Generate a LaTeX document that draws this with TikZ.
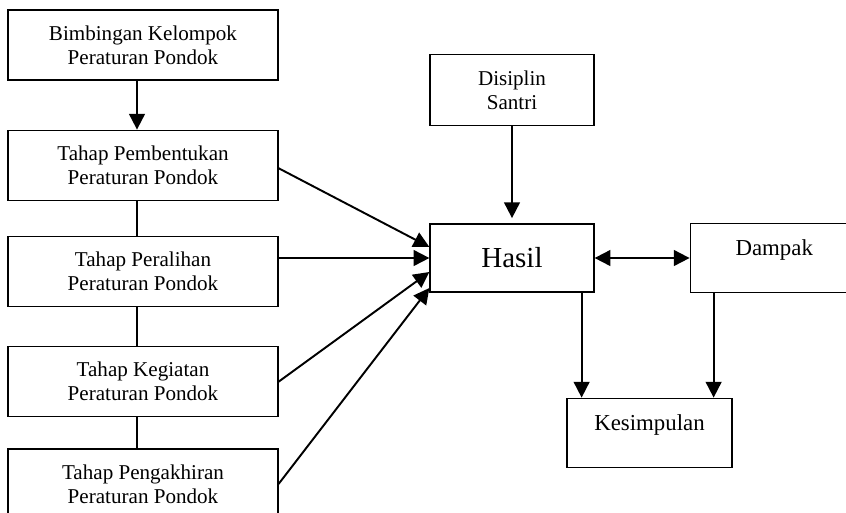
\documentclass[tikz,border=0pt]{standalone}
\usepackage{fontspec}
\setmainfont{Liberation Serif}
\usetikzlibrary{positioning,arrows.meta}
\tikzset{stagebox/.style={draw, line width=0.7pt, minimum width=5.4cm, minimum height=1.4cm, inner sep=0pt, align=center, font=\fontsize{12}{13.6}\selectfont}}
\tikzset{topbox/.style={draw, line width=0.7pt, minimum width=3.3cm, inner sep=0pt, text height=0.64cm, text depth=0.74cm, font=\fontsize{13}{15}\selectfont}}
\tikzset{ppline/.style={line width=0.7pt}}
\tikzset{pparrow/.style={-{Triangle[length=9pt,width=9pt]}, line width=1.1pt}}

\begin{document}
\begin{tikzpicture}
\clip (0,0) rectangle (16.92,-10.24);
\node[stagebox] (bimb) at (2.86,-0.9) {Bimbingan Kelompok\\Peraturan Pondok};
\node[stagebox, below=0.98cm of bimb] (bentuk) {Tahap Pembentukan\\Peraturan Pondok};
\node[stagebox, below=0.7cm of bentuk] (alih) {Tahap Peralihan\\Peraturan Pondok};
\node[stagebox, below=0.78cm of alih] (giat) {Tahap Kegiatan\\Peraturan Pondok};
\node[stagebox, below=0.62cm of giat] (akhir) {Tahap Pengakhiran\\Peraturan Pondok};
\node[draw, line width=0.7pt, minimum width=3.28cm, minimum height=1.36cm, font=\fontsize{16.5}{18}\selectfont] (hasil) at (10.24,-5.16) {Hasil};
\node[stagebox, minimum width=3.28cm, minimum height=1.42cm, above=1.94cm of hasil] (disiplin) {Disiplin\\Santri};
\node[topbox, minimum width=3.36cm, right=1.9cm of hasil] (dampak) {Dampak};
\node[topbox, below=2.1cm of hasil, xshift=2.75cm] (kesimpulan) {Kesimpulan};
\draw[pparrow] ([xshift=-0.12cm]bimb.south) -- ([xshift=-0.12cm]bentuk.north);
\draw[ppline] ([xshift=-0.12cm]bentuk.south) -- ([xshift=-0.12cm]alih.north);
\draw[ppline] ([xshift=-0.12cm]alih.south) -- ([xshift=-0.12cm]giat.north);
\draw[ppline] ([xshift=-0.12cm]giat.south) -- ([xshift=-0.12cm]akhir.north);
\draw[pparrow] ([yshift=-0.06cm]bentuk.east) -- ([yshift=0.22cm]hasil.west);
\draw[pparrow] (hasil.west -| alih.east) -- (hasil.west);
\draw[pparrow] (giat.east) -- ([yshift=-0.28cm]hasil.west);
\draw[pparrow] (akhir.east) -- ([yshift=-0.6cm]hasil.west);
\draw[pparrow, shorten >=3pt] (disiplin.south) -- (hasil.north);
\draw[pparrow, {Triangle[length=9pt,width=9pt]}-{Triangle[length=9pt,width=9pt]}] (hasil.east) -- (dampak.west);
\draw[pparrow] ([xshift=-0.26cm]hasil.south east) -- ([xshift=-0.26cm]hasil.south east |- kesimpulan.north);
\draw[pparrow] ([xshift=0.48cm]dampak.south west) -- ([xshift=0.48cm]dampak.south west |- kesimpulan.north);
\end{tikzpicture}
\end{document}
